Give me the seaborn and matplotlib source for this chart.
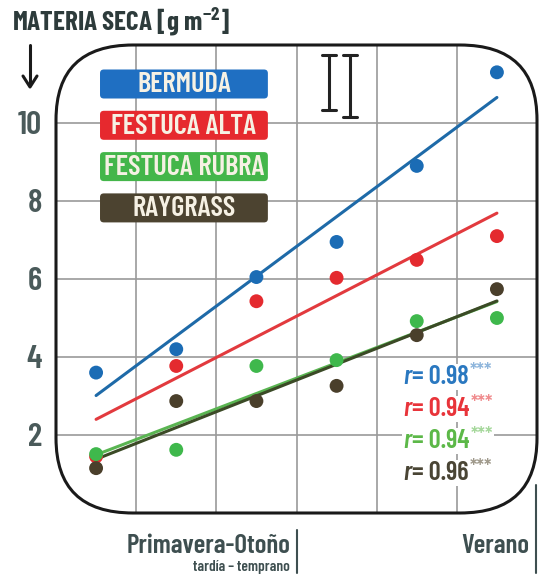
import numpy as np
import pandas as pd
import matplotlib
matplotlib.use('Agg')
import matplotlib.pyplot as plt
import seaborn as sns
from matplotlib.patches import FancyBboxPatch
from matplotlib.lines import Line2D

# data (x = season position, y = dry matter g m-2)
periodo = [0, 1, 2, 3, 4, 5]
bermuda = [3.6, 4.2, 6.05, 6.95, 8.9, 11.3]
festuca_alta = [1.45, 3.77, 5.43, 6.03, 6.49, 7.1]
festuca_rubra = [1.51, 1.62, 3.77, 3.92, 4.92, 5.0]
raygrass = [1.15, 2.87, 2.87, 3.26, 4.56, 5.74]

especies = ['BERMUDA', 'FESTUCA ALTA', 'FESTUCA RUBRA', 'RAYGRASS']
r_vals = ['0.98', '0.94', '0.94', '0.96']
y_ticks = [2, 4, 6, 8, 10]
x_grid = [0.5, 1.5, 2.5, 3.5, 4.5]

punto_col = ['#1b6cb5', '#e42a2f', '#3fb84c', '#4a3f2b']
linea_col = ['#1e6aa8', '#e23a3e', '#5ab552', '#3b4a26']
caja_col = ['#1f6fc2', '#e6292e', '#44b64a', '#4c4330']
r_col = ['#2a78c0', '#e8343a', '#5cb848', '#4a4535']
ast_col = ['#8fb6dc', '#f08c8e', '#a6d89c', '#a09a8c']
texto_col = '#3e4f50'

df = pd.DataFrame({
    'x': periodo * 4,
    'y': bermuda + festuca_alta + festuca_rubra + raygrass,
    'sp': sum([[s] * len(periodo) for s in especies], []),
})

sns.set_style('white')
plt.rcParams['font.family'] = ['Barlow Condensed', 'DejaVu Sans']
plt.rcParams['font.weight'] = 600

fig = plt.figure(figsize=(5.39, 5.76), dpi=100)
ax = fig.add_axes([56 / 539, 63 / 576, 481 / 539, 468 / 576])
ax.set_xlim(-0.5, 5.5)
ax.set_ylim(0, 12)
for s in ax.spines.values():
    s.set_visible(False)
ax.patch.set_alpha(0)

# rounded frame
marco = FancyBboxPatch((0, 0), 1, 1, boxstyle='round,pad=0,rounding_size=0.16',
                       transform=ax.transAxes, fill=False, ec='#1a1a1a', lw=2.2,
                       clip_on=False, zorder=5)
ax.add_patch(marco)

# grid clipped by the rounded frame
for yv in y_ticks:
    g = ax.axhline(yv, color='#9a9a9a', lw=1.2, zorder=0)
    g.set_clip_path(marco)
for xv in x_grid:
    g = ax.axvline(xv, color='#9a9a9a', lw=1.2, zorder=0)
    g.set_clip_path(marco)

# points and fitted lines
for sp, pc, lc in zip(especies, punto_col, linea_col):
    sub = df[df['sp'] == sp]
    sns.regplot(data=sub, x='x', y='y', ax=ax, scatter=False, ci=None,
                line_kws={'color': lc, 'lw': 2.2, 'zorder': 3})
    sns.scatterplot(data=sub, x='x', y='y', ax=ax, color=pc, s=100,
                    edgecolor='none', zorder=4)

ax.set_yticks(y_ticks)
ax.set_yticklabels([str(v) for v in y_ticks], fontsize=24, color='#4a5a5a')
ax.set_xticks(x_grid)
ax.set_xticklabels([])
ax.tick_params(axis='y', direction='in', length=8, width=2, color='#1a1a1a', pad=10)
ax.tick_params(axis='x', direction='in', length=7, width=2, color='#1a1a1a')
ax.set_xlabel('')
ax.set_ylabel('')

# legend boxes
for i, (sp, c) in enumerate(zip(especies, caja_col)):
    yc = (513 - (84 + i * 41.3)) / 468
    ax.add_patch(FancyBboxPatch((0.0915, yc - 0.031), 0.349, 0.062,
                                boxstyle='round,pad=0,rounding_size=0.008',
                                transform=ax.transAxes, fc=c, ec='none', zorder=6))
    ax.text(0.266, yc - 0.002, sp, transform=ax.transAxes, ha='center', va='center',
            fontsize=20.5, color='#f6f1e4', zorder=7)

# correlation labels
for i, (rv, c, ac) in enumerate(zip(r_vals, r_col, ast_col)):
    yc = 1 - (377 + i * 32) / 576
    t1 = fig.text(403 / 539, yc, 'r', color=c, fontsize=19, style='italic',
                  ha='left', va='center', zorder=8,
                  bbox=dict(fc='white', ec='none', pad=1))
    t2 = ax.annotate('= ' + rv, xy=(1, 0.5), xycoords=t1, xytext=(1, 0),
                     textcoords='offset points', color=c, fontsize=19,
                     ha='left', va='center', zorder=8, annotation_clip=False,
                     bbox=dict(fc='white', ec='none', pad=1))
    ax.annotate('***', xy=(1, 0.72), xycoords=t2, xytext=(0.5, 0),
                textcoords='offset points', color=ac, fontsize=15,
                ha='left', va='center', zorder=8, annotation_clip=False,
                bbox=dict(fc='white', ec='none', pad=0.5))

# axis title and arrow
fig.text(12 / 539, 1 - 22 / 576, r'MATERIA SECA [g m$^{\mathregular{-2}}$]',
         fontsize=19.5, weight='bold', color='#2d3b3b', ha='left', va='center')
fig.add_artist(Line2D([30 / 539, 30 / 539], [1 - 45 / 576, 1 - 84 / 576],
                      color='#1a1a1a', lw=2.2))
fig.add_artist(Line2D([23 / 539, 30 / 539, 37 / 539],
                      [1 - 76 / 576, 1 - 87 / 576, 1 - 76 / 576],
                      color='#1a1a1a', lw=2.2))

# "II" symbol
for xs, y0, y1 in [(329, 55, 110), (350, 55, 117)]:
    fig.add_artist(Line2D([xs / 539] * 2, [1 - y0 / 576, 1 - y1 / 576], color='#222', lw=2.2))
    for yy in (y0, y1):
        fig.add_artist(Line2D([(xs - 7) / 539, (xs + 7) / 539], [1 - yy / 576] * 2,
                              color='#222', lw=2.2))

# x axis labels
fig.text(291 / 539, 1 - 546 / 576, 'Primavera-Otoño', fontsize=19.5, color=texto_col,
         ha='right', va='center')
fig.text(290 / 539, 1 - 567 / 576, 'tardía – temprano', fontsize=11, color=texto_col,
         ha='right', va='center')
fig.text(529 / 539, 1 - 546 / 576, 'Verano', fontsize=19.5, color=texto_col,
         ha='right', va='center')
fig.add_artist(Line2D([297 / 539] * 2, [1 - 530 / 576, 1 - 573 / 576], color=texto_col, lw=1.5))
fig.add_artist(Line2D([536 / 539] * 2, [1 - 485 / 576, 1 - 573 / 576], color=texto_col, lw=1.5))

fig.savefig('out.png', dpi=100)
